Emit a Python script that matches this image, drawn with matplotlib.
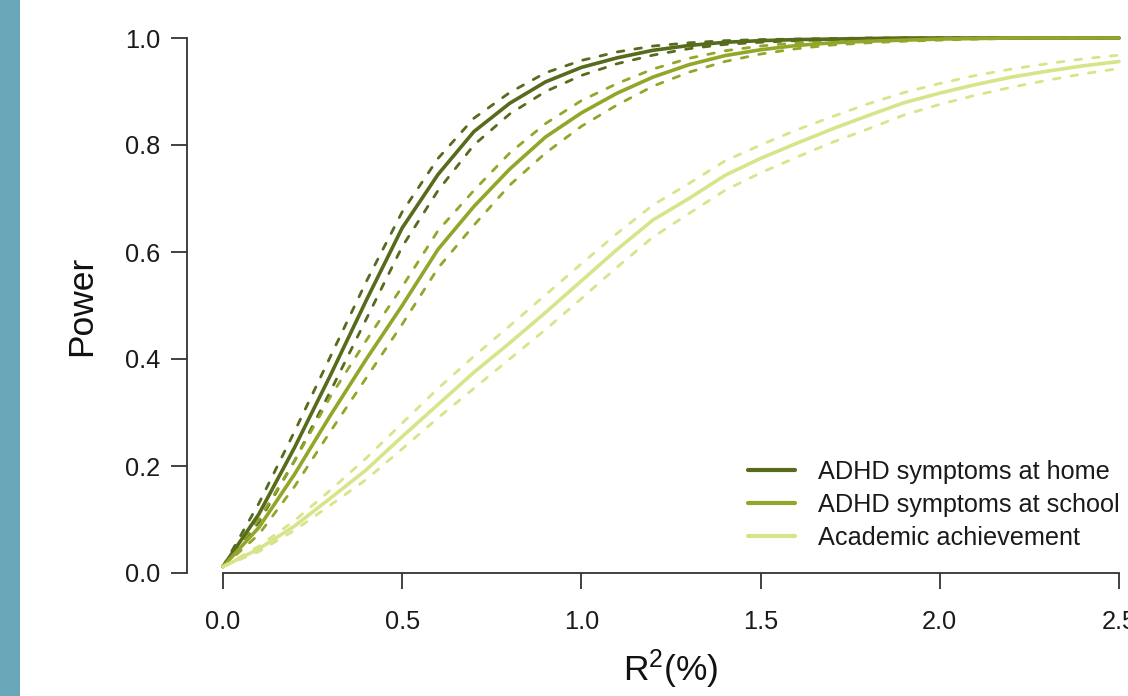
import matplotlib
matplotlib.use("Agg")
import matplotlib.pyplot as plt
from matplotlib.patches import Rectangle

plt.rcParams['font.family'] = ['Liberation Sans', 'DejaVu Sans']
plt.rcParams['mathtext.fontset'] = 'custom'
plt.rcParams['mathtext.rm'] = 'Liberation Sans'
plt.rcParams['mathtext.it'] = 'Liberation Sans:italic'
plt.rcParams['mathtext.bf'] = 'Liberation Sans:bold'

# ---- data (R^2 in %, power) ----
r2 = [0.0, 0.1, 0.2, 0.3, 0.4, 0.5, 0.6, 0.7, 0.8, 0.9, 1.0, 1.1, 1.2, 1.3,
      1.4, 1.5, 1.6, 1.7, 1.8, 1.9, 2.0, 2.1, 2.2, 2.3, 2.4, 2.5]

home = [0.012, 0.11, 0.235, 0.37, 0.51, 0.645, 0.745, 0.825, 0.878, 0.918, 0.945, 0.963, 0.977,
        0.986, 0.992, 0.995, 0.997, 0.998, 0.999, 1.0, 1.0, 1.0, 1.0, 1.0, 1.0, 1.0]
home_hi = [0.012, 0.13, 0.265, 0.405, 0.545, 0.675, 0.775, 0.85, 0.898, 0.935, 0.958, 0.974, 0.985,
           0.991, 0.995, 0.997, 0.998, 0.999, 1.0, 1.0, 1.0, 1.0, 1.0, 1.0, 1.0, 1.0]
home_lo = [0.012, 0.095, 0.21, 0.34, 0.475, 0.61, 0.715, 0.80, 0.858, 0.90, 0.93, 0.952, 0.968,
           0.98, 0.988, 0.992, 0.995, 0.997, 0.998, 0.999, 1.0, 1.0, 1.0, 1.0, 1.0, 1.0]

school = [0.012, 0.085, 0.185, 0.295, 0.40, 0.50, 0.605, 0.685, 0.755, 0.815, 0.86, 0.897, 0.927,
          0.95, 0.967, 0.978, 0.986, 0.991, 0.994, 0.996, 0.998, 0.999, 1.0, 1.0, 1.0, 1.0]
school_hi = [0.012, 0.10, 0.21, 0.33, 0.435, 0.535, 0.64, 0.715, 0.785, 0.84, 0.883, 0.915, 0.942,
             0.962, 0.976, 0.985, 0.991, 0.995, 0.997, 0.998, 0.999, 1.0, 1.0, 1.0, 1.0, 1.0]
school_lo = [0.012, 0.072, 0.162, 0.265, 0.365, 0.465, 0.57, 0.65, 0.725, 0.785, 0.835, 0.875, 0.91,
             0.936, 0.956, 0.97, 0.98, 0.987, 0.991, 0.994, 0.996, 0.998, 0.999, 1.0, 1.0, 1.0]

academic = [0.012, 0.045, 0.088, 0.14, 0.193, 0.255, 0.315, 0.375, 0.43, 0.487, 0.546, 0.605, 0.66,
            0.70, 0.743, 0.775, 0.803, 0.83, 0.855, 0.879, 0.897, 0.913, 0.927, 0.938, 0.948, 0.956]
academic_hi = [0.012, 0.05, 0.098, 0.155, 0.215, 0.28, 0.345, 0.405, 0.462, 0.52, 0.578, 0.635, 0.688,
               0.728, 0.77, 0.80, 0.828, 0.853, 0.877, 0.898, 0.915, 0.93, 0.942, 0.952, 0.961, 0.968]
academic_lo = [0.012, 0.04, 0.08, 0.127, 0.175, 0.232, 0.29, 0.345, 0.40, 0.455, 0.513, 0.572, 0.628,
               0.672, 0.715, 0.748, 0.777, 0.805, 0.83, 0.856, 0.876, 0.893, 0.908, 0.921, 0.933, 0.943]

labels = ["ADHD symptoms at home", "ADHD symptoms at school", "Academic achievement"]
colors = ["#566b1c", "#93a62a", "#d9e48a"]

x_ticks = [0.0, 0.5, 1.0, 1.5, 2.0, 2.5]
x_ticklabels = ["0.0", "0.5", "1.0", "1.5", "2.0", "2.5"]
y_ticks = [0.0, 0.2, 0.4, 0.6, 0.8, 1.0]
y_ticklabels = ["0.0", "0.2", "0.4", "0.6", "0.8", "1.0"]

# ---- figure ----
W, H = 1128, 696
fig = plt.figure(figsize=(W / 100, H / 100), dpi=100)
fig.patches.append(Rectangle((0, 0), 20 / W, 1, transform=fig.transFigure,
                             facecolor="#68a7b8", edgecolor="none", zorder=0))

px_per_unit = 358.4
ax_left = 223 - 0.1 * px_per_unit
ax_width = 2.7 * px_per_unit
ax = fig.add_axes([ax_left / W, (H - 573) / H, ax_width / W, 535 / H])
ax.set_xlim(-0.1, 2.6)
ax.set_ylim(0, 1)

series = [(home, home_hi, home_lo), (school, school_hi, school_lo),
          (academic, academic_hi, academic_lo)]
for (mid, hi, lo), c, lab in zip(series, colors, labels):
    for b in (hi, lo):
        ax.plot(r2, b, color=c, lw=2.0, dashes=(2.4, 4.0), dash_capstyle='round',
                clip_on=False, zorder=2)
    ax.plot(r2, mid, color=c, lw=2.6, solid_capstyle='round', label=lab,
            clip_on=False, zorder=3)

for s in ("top", "right"):
    ax.spines[s].set_visible(False)
for s in ("left", "bottom"):
    ax.spines[s].set_color("#333333")
    ax.spines[s].set_linewidth(1.3)
ax.spines["left"].set_bounds(0, 1)
ax.spines["bottom"].set_bounds(0, 2.5)

ax.set_xticks(x_ticks)
ax.set_xticklabels(x_ticklabels)
ax.set_yticks(y_ticks)
ax.set_yticklabels(y_ticklabels)
ax.tick_params(axis='both', length=11.5, width=1.3, color="#333333",
               labelsize=18.3, labelcolor="#1a1a1a")
ax.tick_params(axis='y', pad=8)
ax.tick_params(axis='x', pad=15)

ax.set_ylabel("Power", fontsize=25.5, color="#111111", labelpad=19)
ax.set_xlabel(r"R$^2$(%)", fontsize=25.5, color="#111111", labelpad=10)

leg = ax.legend(loc="upper left", bbox_to_anchor=(748 / W, 1 - 460 / H),
                bbox_transform=fig.transFigure, frameon=False, fontsize=18.2,
                handlelength=1.86, handletextpad=0.9, labelspacing=0.36,
                borderpad=0, borderaxespad=0)
for line in leg.get_lines():
    line.set_linewidth(3.0)
for t in leg.get_texts():
    t.set_color("#1a1a1a")

fig.savefig("out.png", dpi=100)
